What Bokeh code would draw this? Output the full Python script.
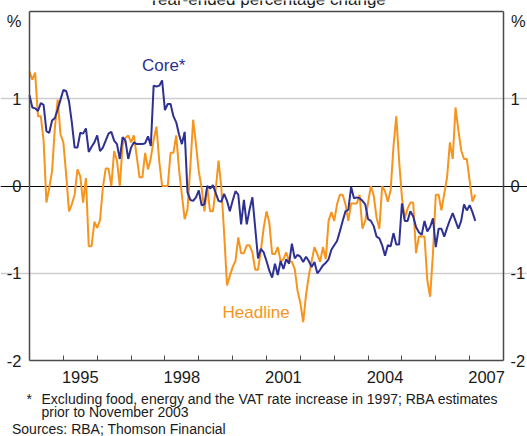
from bokeh.plotting import figure
from bokeh.models import Range1d, LinearAxis, FixedTicker, Label, Grid
from bokeh.embed import file_html
from bokeh.resources import INLINE

# ---------------- data (monthly, Jan 1994 .. Mar 2007) ----------------
START_YEAR = 1994
months = list(range(159))

core = [
    1.04, 0.90, 0.89, 0.86, 0.95, 0.93, 0.63, 0.61, 0.75, 0.78,
    0.88, 0.99, 1.10, 1.09, 0.97, 0.73, 0.44, 0.44, 0.61, 0.60,
    0.66, 0.39, 0.45, 0.50, 0.58, 0.40, 0.44, 0.52, 0.60, 0.62,
    0.52, 0.48, 0.31, 0.56, 0.52, 0.31, 0.44, 0.50, 0.48, 0.48,
    0.48, 0.49, 0.57, 0.46, 1.15, 1.14, 1.15, 1.21, 0.87, 0.94,
    0.94, 0.80, 0.73, 0.59, 0.48, 0.62, -0.07, -0.16, -0.17, -0.13,
    -0.05, -0.22, -0.21, 0.00, -0.03, 0.01, -0.08, -0.17, -0.18, -0.09,
    -0.17, -0.29, -0.17, -0.06, -0.10, -0.44, -0.16, -0.44, -0.27, -0.13,
    -0.48, -0.83, -0.72, -0.76, -0.86, -0.97, -1.05, -0.89, -1.02, -0.86,
    -0.95, -0.84, -0.89, -0.66, -0.83, -0.79, -0.81, -0.87, -0.81, -0.86,
    -0.93, -0.87, -1.00, -0.96, -0.91, -0.88, -0.84, -0.73, -0.68, -0.63,
    -0.52, -0.40, -0.29, -0.27, -0.01, -0.14, -0.13, -0.14, -0.17, -0.21,
    -0.38, -0.40, -0.46, -0.58, -0.60, -0.68, -0.80, -0.68, -0.69, -0.54,
    -0.67, -0.67, -0.20, -0.40, -0.40, -0.29, -0.35, -0.47, -0.53, -0.56,
    -0.40, -0.52, -0.47, -0.37, -0.70, -0.49, -0.49, -0.58, -0.48, -0.39,
    -0.31, -0.40, -0.49, -0.40, -0.21, -0.28, -0.22, -0.30, -0.40,
]

headline = [
    1.31, 1.22, 1.30, 0.80, 0.80, 0.52, -0.19, -0.02, 0.17, 0.67,
    0.99, 0.59, 0.50, 0.13, -0.29, -0.21, -0.10, 0.19, 0.11, -0.19,
    0.09, -0.69, -0.69, -0.41, -0.48, -0.39, -0.02, 0.20, 0.20, 0.00,
    0.40, 0.29, 0.00, 0.47, 0.55, 0.58, 0.50, 0.58, 0.34, 0.10,
    0.10, 0.38, 0.19, 0.32, 0.53, 0.68, 0.28, 0.00, 0.00, 0.00,
    0.38, 0.38, 0.58, 0.19, -0.10, -0.38, -0.27, 0.22, 0.76, 0.48,
    0.17, -0.02, -0.29, -0.01, -0.29, -0.29, -0.04, 0.29, -0.02, -0.55,
    -1.14, -1.03, -0.93, -0.86, -0.59, -0.77, -0.77, -0.68, -0.68, -0.76,
    -0.96, -0.96, -0.74, -0.48, -0.29, -0.42, -0.78, -0.78, -0.70, -0.86,
    -0.84, -0.76, -0.86, -0.87, -0.95, -1.20, -1.34, -1.56, -1.25, -1.03,
    -0.86, -0.70, -0.78, -0.87, -0.70, -0.84, -0.40, -0.30, -0.40, -0.21,
    -0.10, -0.10, -0.21, -0.40, -0.20, -0.20, -0.20, -0.10, -0.49, -0.40,
    -0.19, 0.00, -0.11, -0.36, -0.49, 0.00, -0.06, -0.18, -0.05, 0.45,
    0.80, 0.29, -0.13, -0.37, -0.26, -0.19, -0.19, -0.77, -0.58, -0.58,
    -0.58, -1.08, -1.27, -0.77, -0.10, -0.10, -0.28, -0.09, 0.10, 0.50,
    0.31, 0.90, 0.64, 0.41, 0.31, 0.31, 0.06, -0.18, -0.10,
]

year_labels = ["1995", "1998", "2001", "2004", "2007"]
year_ticks = list(range(1995, 2008))
y_ticks = [-2, -1, 0, 1]
y_tick_labels = ["-2", "-1", "0", "1"]
grid_values = [-1, 1]

x = [START_YEAR + m / 12.0 for m in months]

# ---------------- styling / geometry ----------------
FONT = "Liberation Sans"
TXT = "#1a1a1a"
AX = "#4a4a4a"
BLUE = "#2e3192"
ORANGE = "#f7941d"
TICK_SIZE = "16.5px"

X0, X1 = 1994, 2008
Y0, Y1 = -2, 2
W, H = 527, 436
BL, BR, BT, BB = 29, 503, 11, 360      # pixel box of the chart area
xs = (X1 - X0) / (BR - BL)
ys = (Y1 - Y0) / (BB - BT)
x_start, x_end = X0 - BL * xs, X1 + (W - BR) * xs
y_start, y_end = Y0 - (H - BB) * ys, Y1 + BT * ys

def px2x(px):
    return x_start + px * xs

def py2y(py):
    return y_end - py * ys

p = figure(width=W, height=H, output_backend="svg", toolbar_location=None,
           x_range=Range1d(x_start, x_end), y_range=Range1d(y_start, y_end),
           x_axis_location=None, y_axis_location=None, min_border=0)
p.grid.visible = False
p.outline_line_color = None
p.background_fill_color = "white"
p.border_fill_color = "white"

# grid lines at +-1 and black zero line, limited to the chart box
p.add_layout(Grid(dimension=1, ticker=FixedTicker(ticks=grid_values), bounds=(X0, X1),
                  grid_line_color="#cdcdcd", grid_line_width=1.6))
p.add_layout(Grid(dimension=1, ticker=FixedTicker(ticks=[0]), bounds=(X0, X1),
                  grid_line_color="black", grid_line_width=1.2))

# bottom axis: labels centred in the year, ticks at year boundaries
label_pos = [int(s) + 0.5 for s in year_labels]
xa = LinearAxis(ticker=FixedTicker(ticks=label_pos, minor_ticks=year_ticks),
                major_label_overrides={v: s for v, s in zip(label_pos, year_labels)},
                fixed_location=Y0, bounds=(X0, X1))
xa.major_tick_in = 0
xa.major_tick_out = 0
xa.minor_tick_in = 5
xa.minor_tick_out = 0
xa.minor_tick_line_color = AX
xa.minor_tick_line_width = 1
xa.axis_line_color = AX
xa.axis_line_width = 1.5
xa.major_label_text_font = FONT
xa.major_label_text_font_size = TICK_SIZE
xa.major_label_text_color = TXT
xa.major_label_standoff = 10
p.add_layout(xa, "below")

# top border (axis without ticks)
ta = LinearAxis(ticker=FixedTicker(ticks=[]), fixed_location=Y1, bounds=(X0, X1))
ta.major_tick_in = 0
ta.major_tick_out = 0
ta.axis_line_color = AX
ta.axis_line_width = 1.5
p.add_layout(ta, "above")

for side, loc in (("left", X0), ("right", X1)):
    ya = LinearAxis(ticker=FixedTicker(ticks=y_ticks), fixed_location=loc, bounds=(Y0, Y1),
                    major_label_overrides={v: s for v, s in zip(y_ticks, y_tick_labels)})
    ya.major_tick_in = 0
    ya.major_tick_out = 0
    ya.minor_tick_in = 0
    ya.minor_tick_out = 0
    ya.axis_line_color = AX
    ya.axis_line_width = 1.5
    ya.major_label_text_font = FONT
    ya.major_label_text_font_size = TICK_SIZE
    ya.major_label_text_color = TXT
    ya.major_label_standoff = 8 if side == "left" else 7
    p.add_layout(ya, side)

# series
p.line(x, headline, line_color=ORANGE, line_width=2)
p.line(x, core, line_color=BLUE, line_width=2)

def lab(text, px, py, color=TXT, size="17px", align="left"):
    p.add_layout(Label(x=px2x(px), y=py2y(py), text=text, text_font=FONT,
                       text_font_size=size, text_color=color, text_align=align,
                       text_baseline="alphabetic"))

lab("Core*", 141.5, 65, color=BLUE)
lab("Headline", 222, 311.5, color=ORANGE)
lab("Year-ended percentage change", 266.5, -1.5, align="center")
lab("%", 21, 20, size=TICK_SIZE, align="right")
lab("%", 510.5, 20, size=TICK_SIZE)
lab("*", 26, 398, size="14px")
lab("Excluding food, energy and the VAT rate increase in 1997; RBA estimates", 41, 398, size="14px")
lab("prior to November 2003", 41, 411, size="14px")
lab("Sources: RBA; Thomson Financial", 11.5, 428, size="14px")

open("out.html", "w").write(file_html(p, INLINE))
